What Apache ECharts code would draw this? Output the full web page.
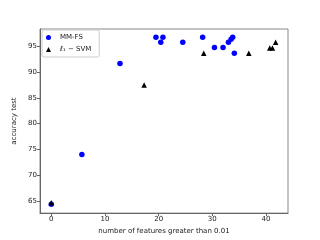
<!DOCTYPE html>
<html><head><meta charset="utf-8">
<script src="https://cdn.jsdelivr.net/npm/echarts@6/dist/echarts.min.js"></script>
<style>html,body{margin:0;padding:0;background:#fff}#c{width:320px;height:240px}</style>
</head><body><div id="c"></div>
<script>
const mmfsX = [0, 5.7, 12.8, 19.5, 20.4, 20.8, 24.5, 28.2, 30.4, 32.0, 33.0, 33.8, 33.5, 34.1];
const mmfsY = [64.3, 74.0, 91.7, 96.8, 95.8, 96.8, 95.8, 96.8, 94.8, 94.8, 95.8, 96.8, 96.4, 93.7];
const svmX = [0, 17.3, 28.4, 36.8, 40.7, 41.2, 41.8];
const svmY = [64.6, 87.5, 93.7, 93.7, 94.7, 94.7, 95.8];
const xTicks = [0, 10, 20, 30, 40];
const yTicks = [65, 70, 75, 80, 85, 90, 95];

const font = 'DejaVu Sans';
const chart = echarts.init(document.getElementById('c'));
const axisCommon = {
  axisLine: {show: true, onZero: false, lineStyle: {color: '#666', width: 1}},
  axisTick: {show: true, length: 3, lineStyle: {color: '#666'}},
  splitLine: {show: false},
  axisLabel: {color: '#222', fontSize: 7, fontFamily: font, margin: 3},
  nameTextStyle: {color: '#222', fontSize: 7, fontFamily: font}
};
chart.setOption({
  animation: false,
  grid: {left: 40, right: 32, top: 29, bottom: 26, show: true, borderColor: '#888', borderWidth: 1},
  xAxis: Object.assign({}, axisCommon, {
    type: 'value', min: -2.1, max: 44.1,
    axisTick: Object.assign({}, axisCommon.axisTick, {customValues: xTicks}),
    axisLabel: Object.assign({}, axisCommon.axisLabel, {customValues: xTicks}),
    name: 'number of features greater than 0.01', nameLocation: 'middle', nameGap: 14
  }),
  yAxis: Object.assign({}, axisCommon, {
    type: 'value', min: 62.6, max: 98.4,
    axisTick: Object.assign({}, axisCommon.axisTick, {customValues: yTicks}),
    axisLabel: Object.assign({}, axisCommon.axisLabel, {customValues: yTicks}),
    name: 'accuracy test', nameLocation: 'middle', nameGap: 22
  }),
  legend: {
    left: 42, top: 30, orient: 'vertical', itemWidth: 5, itemHeight: 5, itemGap: 5,
    padding: [4, 8, 4, 4], borderColor: '#ccc', borderWidth: 1, borderRadius: 2,
    textStyle: {fontSize: 7, fontFamily: font, color: '#222', padding: [0, 0, 0, 4]},
    data: [{name: 'MM-FS', icon: 'circle'}, {name: 'ℓ₁ − SVM', icon: 'triangle'}]
  },
  series: [
    {name: 'MM-FS', type: 'scatter', symbol: 'circle', symbolSize: 5.5,
     itemStyle: {color: '#0000ff', opacity: 1}, data: mmfsX.map((x, i) => [x, mmfsY[i]])},
    {name: 'ℓ₁ − SVM', type: 'scatter', symbol: 'triangle', symbolSize: 5.5,
     itemStyle: {color: '#000', opacity: 1}, data: svmX.map((x, i) => [x, svmY[i]])}
  ]
});
</script></body></html>
